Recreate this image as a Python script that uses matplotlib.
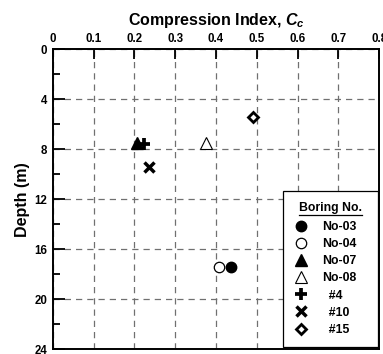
import matplotlib
matplotlib.use("Agg")
import matplotlib.pyplot as plt
from matplotlib.lines import Line2D
from matplotlib.ticker import MultipleLocator

plt.rcParams["font.family"] = ["Liberation Sans", "DejaVu Sans"]
plt.rcParams["font.weight"] = "bold"
plt.rcParams["mathtext.fontset"] = "custom"
plt.rcParams["mathtext.it"] = "Liberation Sans:italic:bold"
plt.rcParams["mathtext.rm"] = "Liberation Sans:bold"

# Compression index vs. depth for each boring
borings = ["No-03", "No-04", "No-07", "No-08", "#4", "#10", "#15"]
cc_values = [0.437, 0.408, 0.206, 0.376, 0.224, 0.237, 0.490]
depths = [17.4, 17.4, 7.5, 7.5, 7.6, 9.4, 5.4]

x_ticks = [0, 0.1, 0.2, 0.3, 0.4, 0.5, 0.6, 0.7, 0.8]
y_ticks = [0, 4, 8, 12, 16, 20, 24]

styles = {
    "No-03": dict(marker="o", ms=7.5, mfc="black", mec="black", mew=1),
    "No-04": dict(marker="o", ms=7.5, mfc="white", mec="black", mew=0.9),
    "No-07": dict(marker="^", ms=8, mfc="black", mec="black", mew=1),
    "No-08": dict(marker="^", ms=8, mfc="white", mec="black", mew=0.8),
    "#4": dict(marker="+", ms=8.5, mfc="none", mec="black", mew=2.7),
    "#10": dict(marker="x", ms=7, mfc="none", mec="black", mew=2.5),
    "#15": dict(marker="D", ms=5, mfc="white", mec="black", mew=2.0),
}

fig = plt.figure(figsize=(3.83, 3.54), dpi=100)
ax = fig.add_axes([52.7 / 383, 5 / 354, 326.6 / 383, 299.7 / 354])

for name, cc, d in zip(borings, cc_values, depths):
    label = name if name.startswith("No") else "  " + name
    ax.plot([cc], [d], linestyle="none", label=label, zorder=3, **styles[name])

ax.set_xlim(0, 0.8)
ax.set_ylim(24, 0)
ax.set_xticks(x_ticks)
ax.set_xticklabels([f"{t:g}" for t in x_ticks])
ax.set_yticks(y_ticks)
ax.yaxis.set_minor_locator(MultipleLocator(2))

ax.xaxis.tick_top()
ax.xaxis.set_label_position("top")
ax.tick_params(axis="x", which="major", direction="in", length=7, width=1.3,
               labelsize=8.3, pad=3, top=True, bottom=False)
ax.tick_params(axis="y", which="major", direction="in", length=8.5, width=1.3,
               labelsize=8.3, pad=4, left=True, right=False)
ax.tick_params(axis="y", which="minor", direction="in", length=5, width=1.3,
               left=True, right=False)

for s in ax.spines.values():
    s.set_linewidth(1.4)
    s.set_color("black")

ax.grid(True, which="major", color="#707070", linestyle=(0, (5, 4)), linewidth=0.9)
ax.set_axisbelow(True)

ax.set_xlabel(r"Compression Index, $C_c$", fontsize=11.5, fontweight="bold", labelpad=6)
ax.set_ylabel("Depth (m)", fontsize=11.5, fontweight="bold", labelpad=3)

leg = ax.legend(loc="upper left", bbox_to_anchor=(0.705, 0.023, 0.291, 0.504),
                mode="expand", borderaxespad=0,
                title="Boring No.", fontsize=8.8,
                title_fontproperties={"weight": "bold", "size": 8.8},
                frameon=True, fancybox=False, edgecolor="black", framealpha=1,
                handlelength=1.2, handletextpad=1.1, labelspacing=0.42,
                borderpad=0.9, markerscale=1.0)
leg.get_frame().set_linewidth(0.9)
leg.set_zorder(5)
# a little more room between the title and the first entry
leg._legend_box.sep = 5

# underline the legend title
fig.canvas.draw()
bb = leg.get_title().get_window_extent()
W, H = fig.bbox.width, fig.bbox.height
fig.add_artist(Line2D([bb.x0 / W, bb.x1 / W], [(bb.y0 - 0.5) / H] * 2,
                      transform=fig.transFigure, color="black", linewidth=0.9,
                      zorder=6))

fig.savefig("out.png", dpi=100)
